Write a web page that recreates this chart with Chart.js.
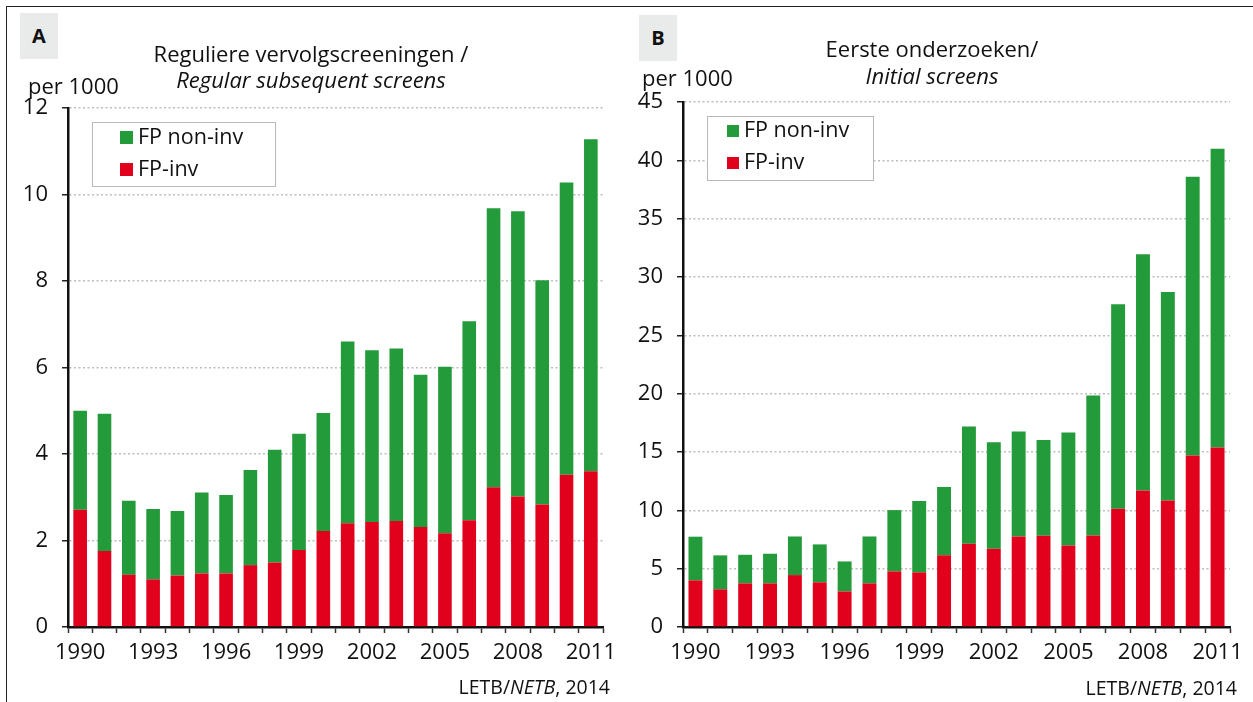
<!DOCTYPE html>
<html>
<head>
<meta charset="utf-8">
<script src="https://cdn.jsdelivr.net/npm/chart.js@4"></script>
<style>
  body { margin: 0; background: #fff; font-family: "Open Sans", sans-serif; color: #111; }
  .page { position: relative; width: 1253px; height: 702px; overflow: hidden; }
  .frame { position: absolute; left: 6px; top: 6px; right: -5px; bottom: -5px; border-top: 1.5px solid #222; border-left: 1.5px solid #222; }
  .tag { position: absolute; width: 38px; height: 46px; background: #e9eaea; font-weight: bold; font-size: 20px; text-align: center; line-height: 46px; }
  .title { position: absolute; text-align: center; font-size: 22px; }
  .unit { position: absolute; font-size: 22px; line-height: 30px; }
  .legend { position: absolute; border: 1px solid #b8b8b8; background: #fff; font-size: 21.5px; }
  .legend div { position: absolute; white-space: nowrap; line-height: 24px; }
  .legend span { display: inline-block; width: 13px; height: 13px; margin-right: 5px; }
  .source { position: absolute; font-size: 19.5px; line-height: 26px; text-align: right; width: 300px; }
  canvas { position: absolute; top: 0; }
</style>
</head>
<body>
<div class="page">
  <div class="frame"></div>
  <canvas id="chartA"></canvas>
  <canvas id="chartB"></canvas>

  <div class="tag" style="left:20px; top:13px;">A</div>
  <div class="title" style="left:111px; width:400px; top:40px; line-height:26px;">Reguliere vervolgscreeningen /<br><i>Regular subsequent screens</i></div>
  <div class="unit" style="left:28px; top:70px;">per 1000</div>
  <div class="legend" style="left:92px; top:122px; width:182px; height:63px;">
    <div style="left:27px; top:1px;"><span style="background:#249b3a"></span>FP non-inv</div>
    <div style="left:27px; top:33px;"><span style="background:#e2011d"></span>FP-inv</div>
  </div>
  <div class="source" style="left:310px; top:674px;">LETB/<i>NETB</i>, 2014</div>

  <div class="tag" style="left:639px; top:15px;">B</div>
  <div class="title" style="left:732px; width:400px; top:35px; line-height:27px;">Eerste onderzoeken/<br><i>Initial screens</i></div>
  <div class="unit" style="left:642px; top:62px;">per 1000</div>
  <div class="legend" style="left:707px; top:116px; width:165px; height:63px;">
    <div style="left:19px; top:0px;"><span style="background:#249b3a; width:12px; height:12px;"></span>FP non-inv</div>
    <div style="left:19px; top:32px;"><span style="background:#e2011d; width:12px; height:12px;"></span>FP-inv</div>
  </div>
  <div class="source" style="left:937px; top:675px;">LETB/<i>NETB</i>, 2014</div>
</div>

<script>
const years = ["1990", "1991", "1992", "1993", "1994", "1995", "1996", "1997", "1998", "1999", "2000",
  "2001", "2002", "2003", "2004", "2005", "2006", "2007", "2008", "2009", "2010", "2011"];

// A: regular subsequent screens, per 1000
const invA = [2.71, 1.76, 1.21, 1.10, 1.19, 1.24, 1.24, 1.43, 1.49, 1.78, 2.22,
  2.40, 2.43, 2.45, 2.31, 2.17, 2.47, 3.23, 3.02, 2.83, 3.52, 3.60];
const nonInvA = [2.29, 3.17, 1.71, 1.63, 1.49, 1.87, 1.81, 2.20, 2.61, 2.69, 2.73,
  4.20, 3.97, 3.99, 3.52, 3.85, 4.60, 6.45, 6.59, 5.19, 6.76, 7.68];

// B: initial screens, per 1000
const invB = [4.00, 3.23, 3.74, 3.74, 4.45, 3.83, 3.05, 3.74, 4.77, 4.68, 6.14,
  7.14, 6.71, 7.76, 7.82, 6.99, 7.85, 10.13, 11.70, 10.85, 14.70, 15.39];
const nonInvB = [3.74, 2.91, 2.45, 2.54, 3.31, 3.25, 2.57, 4.02, 5.25, 6.11, 5.85,
  10.05, 9.13, 9.00, 8.20, 9.68, 11.99, 17.53, 20.24, 17.87, 23.90, 25.61];

const yMaxA = 12, yStepA = 2;
const yMaxB = 45, yStepB = 5;

const green = "#249b3a";
const red = "#e2011d";

Chart.defaults.font.family = '"Open Sans", sans-serif';
Chart.defaults.color = "#111";

function makeChart(id, left, width, padTop, padRight, axisW, inv, nonInv, yMax, yStep) {
  const canvas = document.getElementById(id);
  canvas.style.left = left + "px";
  canvas.style.width = width + "px";
  canvas.style.height = "702px";
  canvas.width = width;
  canvas.height = 702;
  return new Chart(canvas, {
    type: "bar",
    data: {
      labels: years,
      datasets: [
        { label: "FP-inv", data: inv, backgroundColor: red },
        { label: "FP non-inv", data: nonInv, backgroundColor: green }
      ]
    },
    options: {
      responsive: false,
      animation: false,
      barPercentage: 0.56,
      categoryPercentage: 1,
      layout: { padding: { top: padTop, right: padRight, bottom: 0, left: 0 } },
      plugins: { legend: { display: false }, tooltip: { enabled: false } },
      scales: {
        x: {
          stacked: true,
          offset: true,
          grid: { display: true, offset: true, drawOnChartArea: false, tickLength: 6, tickColor: "#333", tickWidth: 1.5 },
          border: { color: "#111", width: 2.5 },
          ticks: {
            autoSkip: false, maxRotation: 0, padding: 7,
            font: { size: 22 },
            callback: function (v, i) { return i % 3 == 0 ? years[i] : ""; }
          },
          afterFit: function (scale) { scale.height = 75; }
        },
        y: {
          stacked: true,
          min: 0,
          max: yMax,
          grid: { color: "#bdbdbd", lineWidth: 1.5, tickLength: 6, tickColor: "#222", tickWidth: 1.5, tickBorderDash: [] },
          border: { color: "#111", width: 2.5, dash: [2, 2.5] },
          ticks: { stepSize: yStep, padding: 14, font: { size: 22 } },
          afterFit: function (scale) { scale.width = axisW; }
        }
      }
    }
  });
}

makeChart("chartA", 0, 626, 108, 23, 68, invA, nonInvA, yMaxA, yStepA);
makeChart("chartB", 626, 627, 102, 23, 57, invB, nonInvB, yMaxB, yStepB);
</script>
</body>
</html>
